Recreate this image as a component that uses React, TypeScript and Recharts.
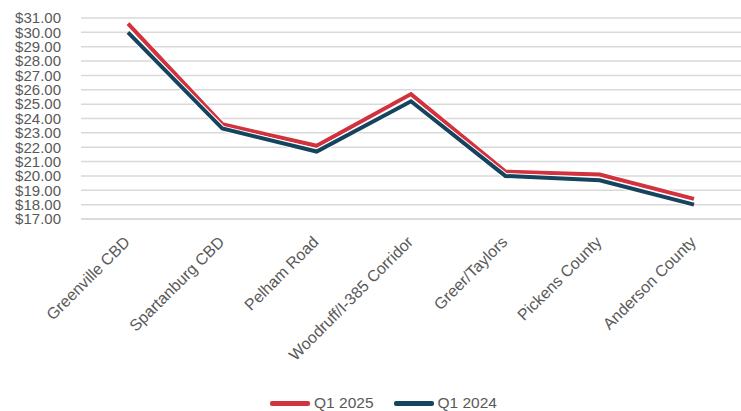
import { LineChart, Line, XAxis, YAxis, CartesianGrid, Legend } from "recharts"

const submarkets = [
  "Greenville CBD",
  "Spartanburg CBD",
  "Pelham Road",
  "Woodruff/I-385 Corridor",
  "Greer/Taylors",
  "Pickens County",
  "Anderson County",
]
const q1_2025 = [30.6, 23.6, 22.1, 25.7, 20.3, 20.1, 18.4]
const q1_2024 = [30.0, 23.3, 21.7, 25.2, 20.0, 19.7, 18.0]
const yTicks = [17, 18, 19, 20, 21, 22, 23, 24, 25, 26, 27, 28, 29, 30, 31]

const RED = "#D1323D"
const NAVY = "#15445F"
const FONT = "'Liberation Sans', Arial, sans-serif"

const chartData = submarkets.map((name, i) => ({
  name,
  q25: q1_2025[i],
  q24: q1_2024[i],
}))

function AngledTick(props: any) {
  const { x, payload } = props
  return (
    <g transform={`translate(${x + 3}, 243)`}>
      <text
        transform="rotate(-45)"
        textAnchor="end"
        fill="#595959"
        fontSize={16}
        fontFamily={FONT}
      >
        {payload.value}
      </text>
    </g>
  )
}

function LegendRow() {
  const items = [
    { label: "Q1 2025", color: RED },
    { label: "Q1 2024", color: NAVY },
  ]
  return (
    <div style={{ display: "flex", justifyContent: "center", gap: 20, paddingLeft: 26, fontFamily: FONT, fontSize: 15.5, color: "#595959" }}>
      {items.map((it) => (
        <div key={it.label} style={{ display: "flex", alignItems: "center", gap: 4 }}>
          <div style={{ width: 40, height: 5, background: it.color, borderRadius: 2 }} />
          <span>{it.label}</span>
        </div>
      ))}
    </div>
  )
}

export default function App() {
  return (
    <div style={{ position: "absolute", left: 0, top: 0, width: 741, height: 411, background: "#fff" }}>
      <LineChart width={741} height={411} data={chartData} margin={{ top: 18, right: 0, bottom: 0, left: 0 }}>
        <CartesianGrid vertical={false} stroke="#D9D9D9" strokeWidth={1.5} />
        <XAxis
          dataKey="name"
          interval={0}
          height={162}
          padding={{ left: 47, right: 47 }}
          tick={<AngledTick />}
          tickLine={false}
          axisLine={{ stroke: "#D9D9D9", strokeWidth: 1.5 }}
        />
        <YAxis
          width={81}
          domain={[17, 31]}
          ticks={yTicks}
          interval={0}
          tickFormatter={(v: number) => `$${v.toFixed(2)}`}
          tick={{ fill: "#595959", fontSize: 15, fontFamily: FONT }}
          tickLine={false}
          axisLine={false}
          tickSize={0}
          tickMargin={20}
        />
        <Legend
          verticalAlign="bottom"
          height={30}
          content={() => <LegendRow />}
          wrapperStyle={{ bottom: -13 }}
        />
        <Line dataKey="q25" stroke="#fff" strokeWidth={6} dot={false} isAnimationActive={false} legendType="none" />
        <Line dataKey="q25" name="Q1 2025" stroke={RED} strokeWidth={4} dot={false} isAnimationActive={false} />
        <Line dataKey="q24" stroke="#fff" strokeWidth={6} dot={false} isAnimationActive={false} legendType="none" />
        <Line dataKey="q24" name="Q1 2024" stroke={NAVY} strokeWidth={4} dot={false} isAnimationActive={false} />
      </LineChart>
    </div>
  )
}
